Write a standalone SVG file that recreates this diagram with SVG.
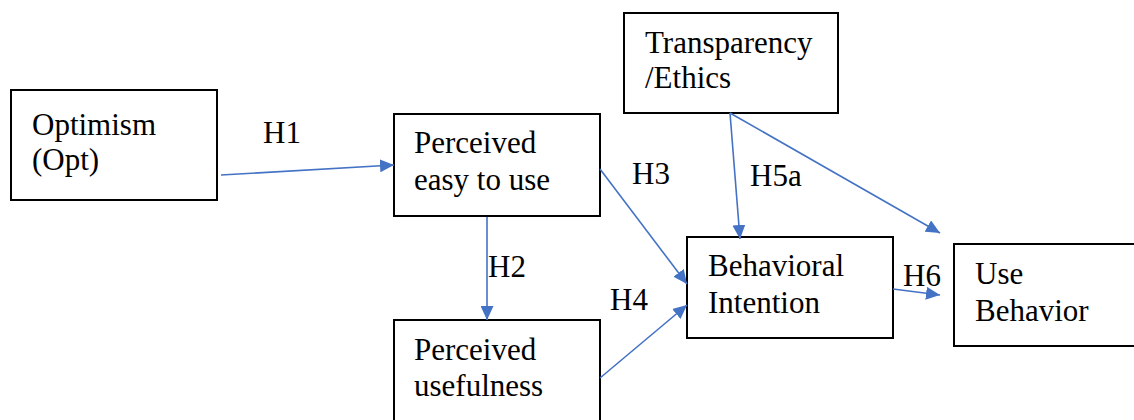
<svg xmlns="http://www.w3.org/2000/svg" width="1134" height="420" viewBox="0 0 1134 420">
<style>
.box{fill:#fff;stroke:#000;stroke-width:2}
.t{font-family:'Liberation Serif','Times New Roman',serif;font-size:31px;fill:#000}
.c{fill:none;stroke:#4472C4;stroke-width:1.6}
</style>
<defs>
<marker id="ah" markerUnits="userSpaceOnUse" markerWidth="15" markerHeight="13" refX="14" refY="6.5" orient="auto">
<path d="M0,0 L14,6.5 L0,13 Z" fill="#4472C4"/>
</marker>
</defs>
<rect width="1134" height="420" fill="#fff"/>
<g font-family="'Liberation Serif', 'Times New Roman', serif" font-size="31">
<g id="opt"><rect class="box" x="11" y="90" width="206" height="110"/>
<text class="t" x="32" y="135">Optimism</text><text class="t" x="32" y="170">(Opt)</text></g>
<g id="peou"><rect class="box" x="394" y="114" width="206" height="102"/>
<text class="t" x="414" y="153">Perceived</text><text class="t" x="414" y="190">easy to use</text></g>
<g id="pu"><rect class="box" x="394" y="320" width="206" height="110"/>
<text class="t" x="414" y="360">Perceived</text><text class="t" x="414" y="396">usefulness</text></g>
<g id="te"><rect class="box" x="624" y="13" width="214" height="100"/>
<text class="t" x="645" y="53">Transparency</text><text class="t" x="645" y="88">/Ethics</text></g>
<g id="bi"><rect class="box" x="687" y="237" width="206" height="101"/>
<text class="t" x="708" y="276">Behavioral</text><text class="t" x="708" y="313">Intention</text></g>
<g id="ub"><rect class="box" x="954" y="244" width="190" height="102"/>
<text class="t" x="975" y="284">Use</text><text class="t" x="975" y="321">Behavior</text></g>
<g id="labels">
<text class="t" x="263" y="143">H1</text>
<text class="t" x="632" y="184">H3</text>
<text class="t" x="750" y="186">H5a</text>
<text class="t" x="488" y="277">H2</text>
<text class="t" x="610" y="310">H4</text>
<text class="t" x="903" y="286">H6</text>
</g>
</g>
<g id="connectors">
<line class="c" x1="221" y1="175" x2="394" y2="165" marker-end="url(#ah)"/>
<line class="c" x1="487" y1="217" x2="487" y2="320" marker-end="url(#ah)"/>
<line class="c" x1="600" y1="169" x2="687" y2="284" marker-end="url(#ah)"/>
<line class="c" x1="600" y1="378" x2="687" y2="305" marker-end="url(#ah)"/>
<line class="c" x1="730" y1="113" x2="740" y2="239" marker-end="url(#ah)"/>
<line class="c" x1="730" y1="113" x2="940" y2="233" marker-end="url(#ah)"/>
<line class="c" x1="893" y1="289" x2="940" y2="295" marker-end="url(#ah)"/>
</g>
</svg>
